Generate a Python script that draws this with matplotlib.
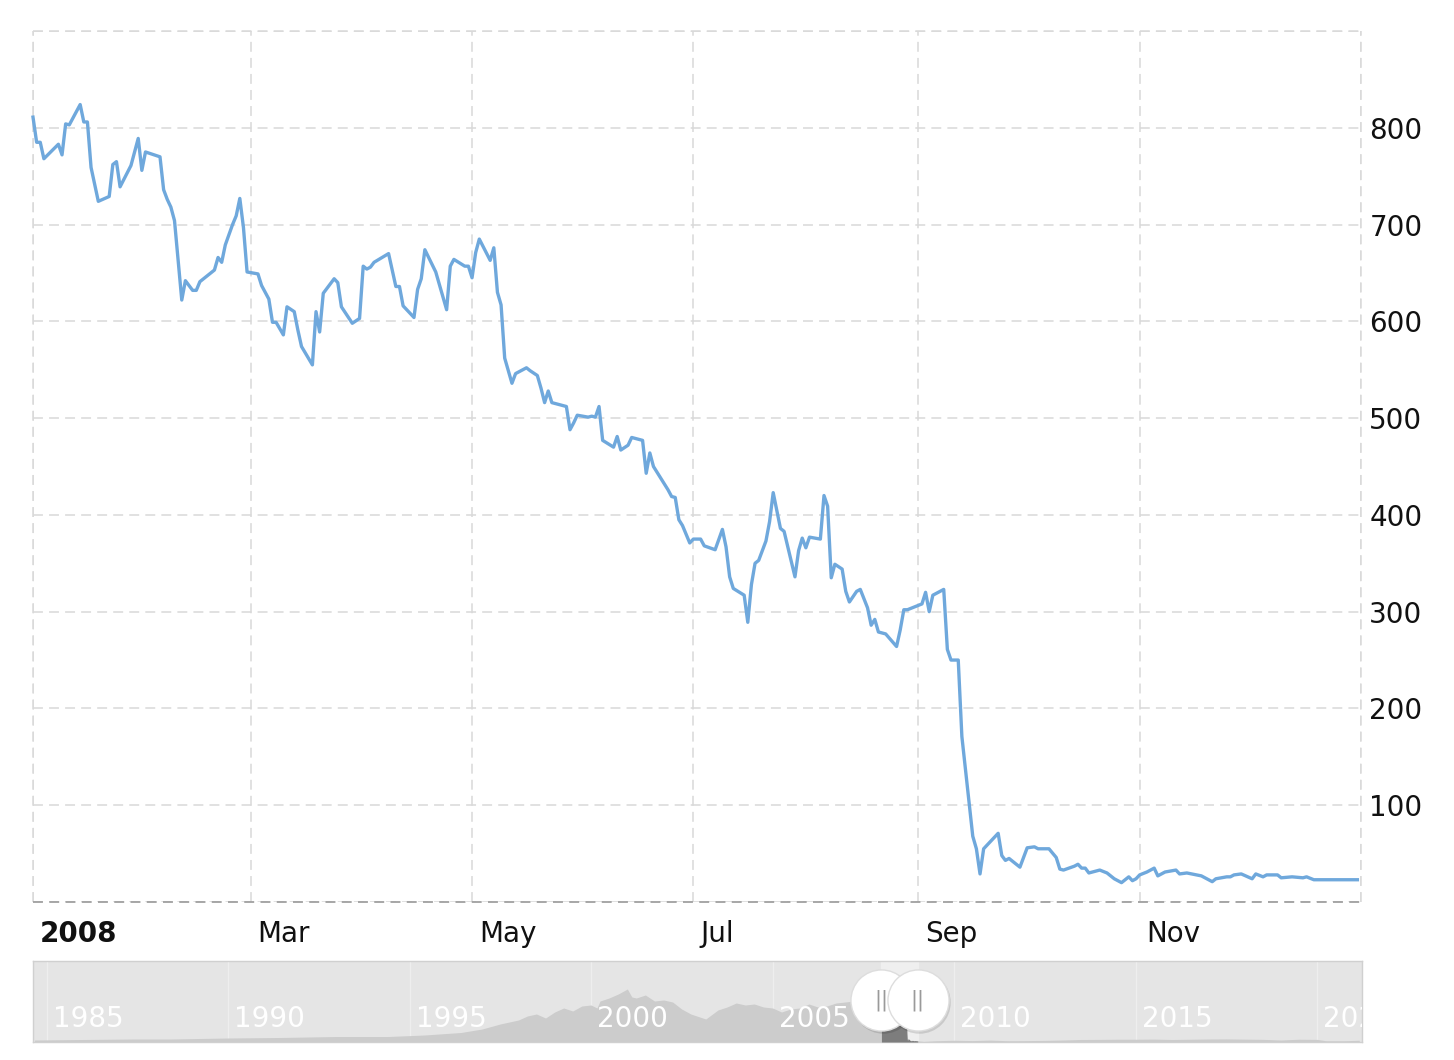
import matplotlib
matplotlib.use("Agg")
import matplotlib.pyplot as plt
import matplotlib.transforms as mtransforms
import pandas as pd

# ---------------- data (main series, 2008) ----------------
dates = [
    "2008-01-01", "2008-01-02", "2008-01-03", "2008-01-04", "2008-01-08", "2008-01-09", "2008-01-10",
    "2008-01-11", "2008-01-14", "2008-01-15", "2008-01-16", "2008-01-17", "2008-01-19", "2008-01-22",
    "2008-01-23", "2008-01-24", "2008-01-25", "2008-01-28", "2008-01-30", "2008-01-31",
    "2008-02-01", "2008-02-05", "2008-02-06", "2008-02-07", "2008-02-08", "2008-02-09", "2008-02-11",
    "2008-02-12", "2008-02-14", "2008-02-15", "2008-02-16", "2008-02-20", "2008-02-21", "2008-02-22",
    "2008-02-23", "2008-02-25", "2008-02-26", "2008-02-27", "2008-02-28", "2008-02-29",
    "2008-03-03", "2008-03-04", "2008-03-06", "2008-03-07", "2008-03-08", "2008-03-10", "2008-03-11",
    "2008-03-13", "2008-03-14", "2008-03-15", "2008-03-18", "2008-03-19", "2008-03-20", "2008-03-21",
    "2008-03-24", "2008-03-25", "2008-03-26", "2008-03-29", "2008-03-31",
    "2008-04-01", "2008-04-02", "2008-04-03", "2008-04-04", "2008-04-08", "2008-04-09", "2008-04-10",
    "2008-04-11", "2008-04-12", "2008-04-15", "2008-04-16", "2008-04-17", "2008-04-18", "2008-04-21",
    "2008-04-24", "2008-04-25", "2008-04-26", "2008-04-29", "2008-04-30",
    "2008-05-01", "2008-05-02", "2008-05-03", "2008-05-06", "2008-05-07", "2008-05-08", "2008-05-09",
    "2008-05-10", "2008-05-12", "2008-05-13", "2008-05-16", "2008-05-17", "2008-05-19", "2008-05-20",
    "2008-05-21", "2008-05-22", "2008-05-23", "2008-05-27", "2008-05-28", "2008-05-29", "2008-05-30",
    "2008-06-02", "2008-06-03", "2008-06-04", "2008-06-05", "2008-06-06", "2008-06-09", "2008-06-10",
    "2008-06-11", "2008-06-13", "2008-06-14", "2008-06-17", "2008-06-18", "2008-06-19", "2008-06-20",
    "2008-06-24", "2008-06-25", "2008-06-26", "2008-06-27", "2008-06-28", "2008-06-30",
    "2008-07-01", "2008-07-03", "2008-07-04", "2008-07-07", "2008-07-09", "2008-07-10", "2008-07-11",
    "2008-07-12", "2008-07-15", "2008-07-16", "2008-07-17", "2008-07-18", "2008-07-19", "2008-07-21",
    "2008-07-22", "2008-07-23", "2008-07-25", "2008-07-26", "2008-07-29", "2008-07-30", "2008-07-31",
    "2008-08-01", "2008-08-02", "2008-08-05", "2008-08-06", "2008-08-07", "2008-08-08", "2008-08-09",
    "2008-08-11", "2008-08-12", "2008-08-13", "2008-08-15", "2008-08-16", "2008-08-18", "2008-08-19",
    "2008-08-20", "2008-08-21", "2008-08-23", "2008-08-26", "2008-08-27", "2008-08-28", "2008-08-29",
    "2008-09-02", "2008-09-03", "2008-09-04", "2008-09-05", "2008-09-08", "2008-09-09", "2008-09-10",
    "2008-09-12", "2008-09-13", "2008-09-16", "2008-09-17", "2008-09-18", "2008-09-19", "2008-09-23",
    "2008-09-24", "2008-09-25", "2008-09-26", "2008-09-29",
    "2008-10-01", "2008-10-03", "2008-10-04", "2008-10-07", "2008-10-09", "2008-10-10", "2008-10-11",
    "2008-10-14", "2008-10-15", "2008-10-16", "2008-10-17", "2008-10-18", "2008-10-21", "2008-10-23",
    "2008-10-25", "2008-10-27", "2008-10-29", "2008-10-30", "2008-10-31",
    "2008-11-01", "2008-11-03", "2008-11-05", "2008-11-06", "2008-11-08", "2008-11-11", "2008-11-12",
    "2008-11-14", "2008-11-18", "2008-11-20", "2008-11-21", "2008-11-22", "2008-11-25", "2008-11-26",
    "2008-11-27", "2008-11-29",
    "2008-12-02", "2008-12-03", "2008-12-05", "2008-12-06", "2008-12-09", "2008-12-10", "2008-12-13",
    "2008-12-16", "2008-12-17", "2008-12-19", "2008-12-23", "2008-12-31",
]
prices = [
    811, 785, 785, 768, 783, 772, 804, 803, 824, 806, 806, 759, 724, 729, 762, 765, 739, 761, 789, 756,
    775, 770, 736, 726, 718, 704, 622, 642, 632, 632, 641, 653, 666, 661, 679, 700, 709, 727, 697, 651,
    649, 637, 623, 599, 599, 586, 615, 610, 591, 574, 555, 610, 589, 629, 644, 640, 615, 598, 603,
    657, 654, 656, 661, 670, 653, 636, 636, 616, 604, 633, 644, 674, 651, 612, 657, 664, 657, 657,
    645, 671, 685, 663, 676, 630, 617, 562, 536, 546, 552, 549, 544, 531, 516, 528, 516, 512, 488, 495, 503,
    501, 502, 501, 512, 477, 470, 481, 467, 472, 480, 477, 443, 464, 450, 426, 419, 418, 395, 389, 371,
    375, 375, 368, 364, 385, 367, 336, 324, 317, 289, 328, 350, 353, 373, 393, 423, 386, 383, 336, 363, 376,
    366, 377, 375, 420, 409, 335, 349, 344, 321, 310, 321, 323, 304, 286, 292, 279, 277, 264, 281, 302, 302,
    308, 320, 300, 317, 323, 261, 250, 250, 171, 68, 55, 29, 55, 71, 48, 43, 45, 36,
    56, 57, 55, 55, 46, 34, 33, 37, 39, 35, 35, 30, 33, 30, 24, 20, 26, 22, 24,
    28, 31, 35, 27, 31, 33, 29, 30, 27, 23, 21, 24, 26, 26, 28, 29,
    24, 29, 26, 28, 28, 25, 26, 25, 26, 23, 23, 23,
]

# ---------------- navigator (long history) ----------------
nav_dates_before = [
    "1984-09-01", "1986-01-01", "1987-06-01", "1988-06-01", "1990-01-01", "1991-06-01", "1993-01-01",
    "1994-06-01", "1995-06-01", "1996-06-01", "1997-01-01", "1997-07-01", "1998-01-01", "1998-04-01",
    "1998-07-01", "1998-10-01", "1999-01-01", "1999-04-01", "1999-07-01", "1999-10-01", "2000-01-01",
    "2000-03-01", "2000-04-01", "2000-07-01", "2000-10-01", "2001-01-01", "2001-02-15", "2001-04-01",
    "2001-07-01", "2001-10-01", "2002-01-01", "2002-04-01", "2002-07-01", "2002-10-01", "2003-03-01",
    "2003-07-01", "2003-10-01", "2004-01-01", "2004-04-01", "2004-07-01", "2004-10-01", "2005-01-01",
    "2005-04-01", "2005-07-01", "2005-10-01", "2006-01-01", "2006-04-01", "2006-07-01", "2006-10-01",
    "2007-01-01", "2007-04-01", "2007-07-01", "2007-10-01",
]
nav_values_before = [
    40, 50, 60, 60, 80, 90, 110, 110, 140, 190, 260, 360, 440, 520, 560, 480, 600, 680, 620, 720, 740,
    680, 820, 880, 960, 1060, 900, 880, 940, 820, 840, 800, 660, 560, 460, 640, 700, 780, 740, 760, 700,
    680, 600, 660, 680, 760, 700, 720, 780, 800, 820, 760, 720,
]
nav_dates_after = [
    "2009-03-01", "2009-07-01", "2010-01-01", "2010-07-01", "2011-01-01", "2011-07-01", "2012-01-01",
    "2012-07-01", "2013-01-01", "2013-07-01", "2014-01-01", "2014-07-01", "2015-01-01", "2015-07-01",
    "2016-01-01", "2016-07-01", "2017-01-01", "2017-07-01", "2018-01-01", "2018-07-01", "2019-01-01",
    "2019-07-01", "2020-01-01", "2020-04-01", "2020-10-01", "2021-03-01",
]
nav_values_after = [
    10, 25, 35, 28, 38, 25, 28, 32, 40, 50, 52, 55, 55, 58, 50, 55, 60, 62, 57, 53, 40, 55, 52, 25, 25, 35,
]

month_ticks = ["2008-01-01", "2008-03-01", "2008-05-01", "2008-07-01", "2008-09-01", "2008-11-01", "2009-01-01"]
month_labels = ["2008", "Mar", "May", "Jul", "Sep", "Nov"]
y_ticks = [0, 100, 200, 300, 400, 500, 600, 700, 800, 900]
y_labels = ["", "100", "200", "300", "400", "500", "600", "700", "800", ""]
nav_years = [1985, 1990, 1995, 2000, 2005, 2010, 2015, 2020]

# ---------------- figure ----------------
W, H = 1454, 1060
fig = plt.figure(figsize=(W / 100, H / 100), dpi=100)
fig.patch.set_facecolor("white")
plt.rcParams["font.family"] = ["DejaVu Sans"]
FS = 20

x = pd.to_datetime(dates)
ax = fig.add_axes([33 / W, 1 - 902 / H, 1328 / W, 871 / H])
ax.set_facecolor("white")
ax.plot(x, prices, color="#6fa8dc", lw=2.4, solid_joinstyle="round", zorder=5, clip_on=False)
ax.set_xlim(pd.Timestamp("2008-01-01"), pd.Timestamp("2009-01-01"))
ax.set_ylim(0, 900)

grid_style = dict(color="#d9d9d9", lw=1.1, ls=(0, (6.5, 4.0)))
ax.set_yticks(y_ticks)
ax.set_yticklabels(y_labels)
ax.set_xticks(pd.to_datetime(month_ticks))
ax.set_xticklabels([""] * len(month_ticks))
ax.grid(True, axis="both", **grid_style)
for s in ax.spines.values():
    s.set_visible(False)
ax.axhline(0, color="#a0a0a0", lw=1.3, ls=(0, (5.5, 3.5)), clip_on=False, zorder=4)
ax.axvline(pd.Timestamp("2008-01-01"), clip_on=False, **grid_style)
ax.axvline(pd.Timestamp("2009-01-01"), clip_on=False, **grid_style)
ax.axhline(900, clip_on=False, **grid_style)

ax.yaxis.tick_right()
ax.tick_params(axis="y", length=0, pad=6, labelsize=FS, labelcolor="#111111")
ax.tick_params(axis="x", length=0)

base = mtransforms.blended_transform_factory(ax.transData, ax.transAxes)
lab_tr = mtransforms.offset_copy(base, fig=fig, x=7, y=-32, units="dots")
for d, lab in zip(month_ticks[:-1], month_labels):
    ax.text(pd.Timestamp(d), 0, lab, transform=lab_tr, ha="left", va="center",
            fontsize=FS, color="#111111", fontweight="bold" if lab == "2008" else "normal")

# ---------------- navigator ----------------
nav = fig.add_axes([33 / W, 1 - 1042 / H, 1329 / W, 81 / H])
nav.set_facecolor("#e5e5e5")
nx = list(pd.to_datetime(nav_dates_before)) + list(x) + list(pd.to_datetime(nav_dates_after))
ny = nav_values_before + prices + nav_values_after
nav.set_xlim(pd.Timestamp("1984-08-18"), pd.Timestamp("2021-03-28"))
nav.set_ylim(0, 1620)
sel0, sel1 = pd.Timestamp("2008-01-01"), pd.Timestamp("2009-01-01")
nav.axvspan(sel0, sel1, color="#efefef", zorder=1)
for yr in nav_years:
    nav.axvline(pd.Timestamp(f"{yr}-01-01"), color="#eeeeee", lw=1, zorder=1.5)
nav.fill_between(nx, ny, 0, color="#cccccc", lw=0, zorder=2)
nav.fill_between(x, prices, 0, color="#7d7d7d", lw=0, zorder=3)
nav.set_xticks([])
nav.set_yticks([])
for s in nav.spines.values():
    s.set_color("#d0d0d0")
    s.set_linewidth(1)
ntr = mtransforms.blended_transform_factory(nav.transData, nav.transAxes)
ntr_lab = mtransforms.offset_copy(ntr, fig=fig, x=6, y=0, units="dots")
for yr in nav_years:
    nav.text(pd.Timestamp(f"{yr}-01-01"), 0.28, str(yr), transform=ntr_lab, ha="left", va="center",
             fontsize=FS, color="white", zorder=4, clip_on=True)

# handles
for d in [sel0, sel1]:
    sh = mtransforms.offset_copy(ntr, fig=fig, x=1.5, y=-2, units="dots")
    nav.plot([d], [0.52], transform=sh, marker="o", ms=45, mfc="#000000", mec="none",
             alpha=0.12, ls="none", clip_on=False, zorder=9)
    nav.plot([d], [0.52], transform=ntr, marker="o", ms=44, mfc="white", mec="#dddddd",
             mew=1, ls="none", clip_on=False, zorder=10)
    nav.text(d, 0.52, "||", transform=ntr, ha="center", va="center", fontsize=15,
             color="#9a9a9a", zorder=11, clip_on=False)

fig.savefig("out.png", dpi=100, facecolor="white")
